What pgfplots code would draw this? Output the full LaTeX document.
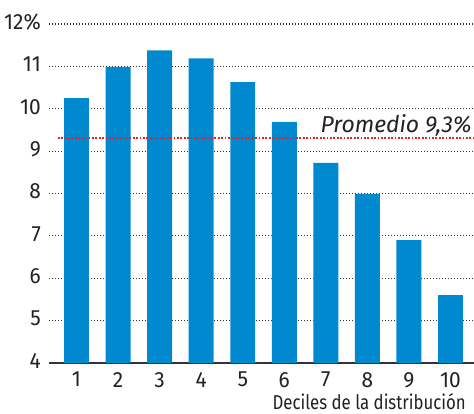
\documentclass[border=0pt]{standalone}
\usepackage{pgfplots}
\pgfplotsset{compat=1.18}
\usepackage{fontspec}
\setmainfont{Fira Sans}
\newfontfamily\condfont[FakeStretch=0.84]{Fira Sans}
\newfontfamily\tickfont[FakeStretch=0.95]{Fira Sans}
\definecolor{barblue}{RGB}{0,137,207}
\definecolor{avgred}{RGB}{222,36,40}
\definecolor{txt}{RGB}{34,34,34}
\begin{document}
\begin{tikzpicture}
\useasboundingbox (0,0) rectangle (474pt,414pt);
\begin{axis}[
  at={(49pt,51pt)}, anchor=south west,
  scale only axis, width=425pt, height=339pt,
  xmin=0.338, xmax=10.565, ymin=4, ymax=12,
  axis x line*=bottom, axis y line*=left,
  y axis line style={draw=none},
  x axis line style={draw=black!80, line width=1.2pt},
  major tick length=0pt,
  xtick={1,...,10},
  ytick={4,...,12},
  yticklabels={4,5,6,7,8,9,10,11,12\%},
  /pgf/number format/assume math mode=true,
  ymajorgrids,
  grid style={black!80, dash pattern=on 1.4pt off 1.6pt, line width=1.1pt},
  ticklabel style={font=\tickfont\fontsize{22}{24}\selectfont, text=txt, inner sep=0pt},
  yticklabel style={anchor=east, xshift=-8pt, yshift=2pt},
  xticklabel style={anchor=north, yshift=-9pt},
  xlabel={Deciles de la distribución},
  xlabel style={at={(rel axis cs:1,0)}, anchor=base east, inner sep=0pt, xshift=-8pt, yshift=-47pt, font=\condfont\fontsize{20}{24}\selectfont, text=txt},
  clip=false,
]
\addplot[ybar, bar width=0.6, fill=barblue, draw=none] coordinates {
  (1,10.25) (2,10.99) (3,11.38) (4,11.19) (5,10.63)
  (6,9.69) (7,8.72) (8,7.99) (9,6.90) (10,5.60)};
\addplot[avgred, line width=2pt, dash pattern=on 1.8pt off 1.6pt] coordinates {(0.555,9.3) (10.565,9.3)};
\node[anchor=base east, inner sep=0pt, xshift=-2pt, yshift=5.6pt, font=\itshape\fontsize{23}{26}\selectfont, text=txt] at (axis cs:10.565,9.3) {Promedio 9,3\%};
\end{axis}
\end{tikzpicture}
\end{document}
